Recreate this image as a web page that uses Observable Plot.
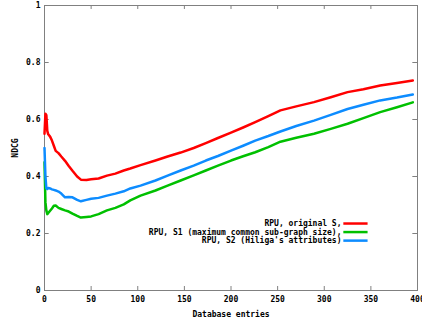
<!DOCTYPE html>
<html>
<head>
<meta charset="utf-8">
<script src="https://cdn.jsdelivr.net/npm/d3@7"></script>
<script src="https://cdn.jsdelivr.net/npm/@observablehq/plot@0.6"></script>
<style>
  html, body { margin: 0; padding: 0; background: #fff; overflow: hidden; }
  #chart { width: 422px; height: 322px; overflow: hidden; }
</style>
</head>
<body>
<div id="chart"></div>
<script>
// Database entries (x) and NDCG values for the three series
const entries = [0,1,2,3,4,6,8,10,12,15,18,22,26,30,35,39,45,50,58,67,76,85,92,103,119,132,146,160,173,186,200,213,226,240,253,270,289,307,325,342,360,378,395];
const ndcgOriginal = [0.55,0.62,0.615,0.56,0.548,0.54,0.526,0.508,0.49,0.482,0.47,0.455,0.437,0.42,0.40,0.389,0.388,0.39,0.393,0.403,0.41,0.421,0.428,0.44,0.456,0.47,0.484,0.50,0.517,0.535,0.554,0.572,0.591,0.612,0.632,0.646,0.661,0.678,0.696,0.706,0.719,0.728,0.737];
const ndcgS1 = [0.45,0.31,0.28,0.268,0.272,0.28,0.288,0.297,0.298,0.29,0.286,0.281,0.277,0.27,0.262,0.256,0.258,0.26,0.268,0.281,0.29,0.302,0.316,0.333,0.351,0.368,0.386,0.404,0.421,0.438,0.456,0.471,0.485,0.503,0.522,0.536,0.55,0.567,0.585,0.605,0.626,0.643,0.66];
const ndcgS2 = [0.50,0.40,0.358,0.356,0.36,0.358,0.355,0.353,0.351,0.347,0.34,0.327,0.328,0.327,0.318,0.313,0.318,0.322,0.325,0.333,0.34,0.348,0.358,0.368,0.386,0.403,0.421,0.438,0.456,0.472,0.491,0.508,0.526,0.542,0.558,0.577,0.596,0.616,0.637,0.652,0.667,0.677,0.688];

const seriesNames = ["RPU, original S,", "RPU, S1 (maximum common sub-graph size),", "RPU, S2 (Hiliga's attributes)"];
const seriesValues = [ndcgOriginal, ndcgS1, ndcgS2];
const seriesColors = ["#ff0000", "#00c000", "#0d8cff"];

const xTicks = [0, 50, 100, 150, 200, 250, 300, 350, 400];
const yTicks = [0, 0.2, 0.4, 0.6, 0.8, 1];
const yTickLabels = ["0", "0.2", "0.4", "0.6", "0.8", "1"];

const gray = "#808080";

const seriesRows = seriesValues.map((vals, s) =>
  entries.map((x, i) => ({x, y: vals[i], series: seriesNames[s]}))
);

const legend = seriesNames.map((name, i) => ({name, color: seriesColors[i], i}));

const chart = Plot.plot({
  width: 422,
  height: 322,
  marginLeft: 44,
  marginRight: 5,
  marginTop: 5,
  marginBottom: 32,
  style: {
    fontFamily: "'DejaVu Sans Mono', monospace",
    fontWeight: "bold",
    fontSize: "8px",
    color: "#000",
    background: "#fff",
    overflow: "hidden"
  },
  x: {domain: [0, 400]},
  y: {domain: [0, 1]},
  marks: [
    Plot.frame({stroke: gray}),
    // inward ticks: bottom, top, left, right
    Plot.ruleX(xTicks, {x: d => d, y1: 0, y2: 0.014, stroke: gray}),
    Plot.ruleX(xTicks, {x: d => d, y1: 1, y2: 0.986, stroke: gray}),
    Plot.ruleY(yTicks, {y: d => d, x1: 0, x2: 5, stroke: gray}),
    Plot.ruleY(yTicks, {y: d => d, x1: 400, x2: 395, stroke: gray}),
    Plot.axisX(xTicks, {
      tickSize: 0, tickPadding: 6,
      label: "Database entries", labelAnchor: "center", labelArrow: "none", labelOffset: 26
    }),
    Plot.axisY(yTicks, {
      tickSize: 0, tickPadding: 4,
      tickFormat: (d, i) => yTickLabels[yTicks.indexOf(d)],
      label: "NDCG", labelAnchor: "center", labelArrow: "none", labelOffset: 32
    }),
    ...seriesRows.map((rows, s) =>
      Plot.line(rows, {x: "x", y: "y", stroke: seriesColors[s], strokeWidth: 2.5})
    ),
    // legend (placed in frame coordinates computed from index)
    Plot.text(legend, {
      text: "name",
      x: () => 318.5,
      y: d => 0.235 - d.i * 0.03,
      textAnchor: "end",
      fill: "#000"
    }),
    Plot.ruleY(legend, {
      y: d => 0.235 - d.i * 0.03,
      x1: () => 321,
      x2: () => 347,
      stroke: d => d.color,
      strokeWidth: 2.5
    })
  ]
});

document.getElementById("chart").appendChild(chart);
</script>
</body>
</html>
